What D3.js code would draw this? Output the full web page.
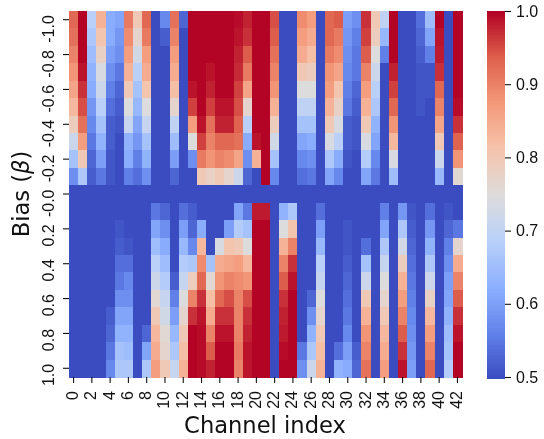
<!DOCTYPE html>
<html>
<head>
<meta charset="utf-8">
<script src="https://cdn.jsdelivr.net/npm/d3@7.9.0/dist/d3.min.js"></script>
<style>
  html, body { margin: 0; padding: 0; background: #fff; }
  svg { display: block; font-family: "DejaVu Sans", sans-serif; filter: blur(.35px); }
  .tick text { fill: #111; }
  .tick line { stroke: #111; stroke-width: 1.1; }
</style>
</head>
<body>
<svg id="chart" width="544" height="439"></svg>
<script>
const biasLabels = ['-1.0','-0.9','-0.8','-0.7','-0.6','-0.5','-0.4','-0.3','-0.2','-0.1','-0.0',
  '0.1','0.2','0.3','0.4','0.5','0.6','0.7','0.8','0.9','1.0'];

// one list per channel, bias -1.0 to -0.1
const negBias = [
  [.93,.92,.90,.88,.86,.83,.79,.72,.66,.58],
  [1,1,1,.99,.97,.95,.92,.87,.80,.67],
  [.69,.67,.65,.63,.62,.59,.57,.55,.53,.52],
  [.84,.81,.78,.74,.72,.69,.66,.63,.60,.55],
  [.62,.62,.60,.58,.56,.54,.52,.52,.51,.51],
  [.61,.59,.58,.55,.53,.52,.51,.50,.50,.50],
  [.91,.89,.87,.84,.80,.75,.71,.63,.62,.56],
  [.80,.77,.73,.69,.66,.64,.61,.59,.56,.54],
  [.93,.91,.87,.85,.81,.75,.71,.66,.63,.58],
  [.5,.5,.5,.5,.5,.5,.5,.5,.5,.5],
  [.57,.52,.5,.5,.5,.5,.5,.5,.5,.5],
  [.92,.90,.87,.85,.82,.77,.70,.65,.60,.53],
  [.53,.5,.5,.5,.5,.5,.5,.5,.5,.5],
  [1,1,1,1,.99,.96,.87,.75,.58,.5],
  [1,1,1,1,1,1,.99,.96,.91,.80],
  [1,1,1,.99,.98,.96,.92,.90,.88,.78],
  [1,1,1,1,1,.99,.98,.93,.90,.80],
  [1,1,1,1,1,.99,.98,.93,.89,.77],
  [.995,.99,.98,.975,.96,.95,.935,.92,.86,.72],
  [.98,.97,.94,.91,.86,.77,.69,.62,.58,.53],
  [1,1,1,1,1,1,1,.99,.84,.5],
  [1,1,1,1,1,1,1,1,1,1],
  [.95,.94,.92,.90,.88,.84,.79,.73,.66,.57],
  [.5,.5,.5,.5,.5,.5,.5,.5,.5,.5],
  [.5,.5,.5,.5,.5,.5,.5,.5,.5,.5],
  [.89,.87,.85,.80,.75,.70,.66,.61,.57,.54],
  [.87,.85,.82,.79,.75,.70,.66,.62,.58,.55],
  [.5,.5,.5,.5,.5,.5,.5,.5,.5,.5],
  [.93,.93,.91,.88,.87,.84,.80,.74,.67,.61],
  [.94,.91,.89,.86,.81,.78,.74,.69,.62,.57],
  [.60,.59,.58,.57,.56,.55,.52,.52,.51,.50],
  [.58,.56,.55,.55,.53,.52,.51,.51,.50,.50],
  [.97,.96,.94,.90,.87,.84,.80,.74,.68,.61],
  [.80,.79,.75,.72,.69,.67,.63,.61,.57,.55],
  [.70,.64,.56,.5,.5,.5,.5,.5,.5,.5],
  [1,1,1,.98,.96,.93,.88,.83,.74,.65],
  [.5,.5,.5,.5,.5,.5,.5,.5,.5,.5],
  [.5,.5,.5,.5,.5,.5,.5,.5,.5,.5],
  [.54,.53,.52,.51,.51,.51,.50,.50,.50,.50],
  [.65,.61,.56,.51,.51,.50,.50,.50,.50,.50],
  [1,.99,.985,.97,.93,.90,.86,.80,.72,.64],
  [.5,.5,.5,.5,.5,.5,.5,.5,.5,.5],
  [1,1,1,1,1,.995,.97,.935,.88,.76]
];

// bias -0.0 is flat at the floor for every channel
const zeroBias = .5;

// one list per channel, bias 0.1 to 1.0
const posBias = [
  [.5,.5,.5,.5,.5,.5,.5,.5,.5,.5],
  [.5,.5,.5,.5,.5,.5,.5,.5,.5,.5],
  [.5,.5,.5,.5,.5,.5,.5,.5,.5,.5],
  [.5,.5,.5,.5,.5,.5,.5,.5,.5,.5],
  [.5,.5,.5,.5,.5,.5,.52,.53,.55,.57],
  [.5,.51,.52,.54,.55,.58,.61,.63,.66,.67],
  [.5,.5,.51,.54,.57,.58,.61,.63,.65,.67],
  [.5,.5,.5,.5,.5,.5,.5,.5,.5,.5],
  [.5,.5,.5,.5,.5,.5,.5,.53,.61,.67],
  [.55,.61,.65,.69,.72,.76,.80,.83,.85,.87],
  [.53,.58,.62,.65,.68,.71,.73,.76,.77,.80],
  [.5,.5,.5,.5,.52,.56,.60,.64,.67,.71],
  [.54,.60,.64,.68,.71,.75,.77,.80,.82,.84],
  [.52,.53,.57,.67,.79,.90,.97,1,1,1],
  [.5,.62,.83,.89,.93,.97,.99,.995,.995,.995],
  [.5,.5,.5,.66,.76,.82,.85,.90,.94,.98],
  [.5,.5,.74,.85,.88,.93,.97,.99,1,1],
  [.5,.60,.81,.86,.90,.95,.97,.99,1,1],
  [.61,.68,.80,.87,.89,.90,.90,.90,.91,.90],
  [.55,.66,.75,.83,.88,.95,.97,.98,.99,.99],
  [.985,1,1,1,1,1,1,1,1,1],
  [.985,1,1,1,1,1,1,1,1,1],
  [.5,.5,.5,.5,.5,.5,.5,.5,.5,.5],
  [.63,.75,.84,.90,.94,.97,.98,.985,.995,1],
  [.67,.81,.90,.97,.99,1,1,1,1,1],
  [.5,.5,.5,.5,.5,.5,.5,.5,.55,.58],
  [.5,.5,.5,.5,.5,.53,.58,.63,.67,.72],
  [.54,.60,.64,.69,.71,.75,.77,.80,.82,.84],
  [.5,.5,.5,.5,.5,.5,.5,.5,.5,.5],
  [.5,.5,.5,.5,.5,.5,.5,.5,.54,.63],
  [.5,.51,.51,.52,.53,.54,.55,.57,.60,.62],
  [.5,.5,.5,.5,.5,.5,.5,.5,.52,.53],
  [.5,.5,.54,.66,.72,.80,.84,.88,.90,.92],
  [.5,.5,.5,.5,.5,.5,.5,.5,.5,.5],
  [.56,.61,.67,.71,.75,.77,.80,.83,.85,.87],
  [.5,.5,.5,.5,.5,.5,.5,.5,.5,.5],
  [.59,.67,.73,.79,.84,.87,.90,.94,.97,.99],
  [.51,.52,.53,.54,.55,.56,.57,.58,.59,.60],
  [.5,.5,.5,.5,.5,.5,.5,.5,.5,.5],
  [.54,.59,.63,.67,.72,.78,.83,.87,.90,.93],
  [.5,.5,.5,.5,.5,.5,.5,.5,.5,.5],
  [.51,.53,.56,.58,.60,.61,.63,.65,.66,.68],
  [.5,.55,.77,.85,.90,.94,.97,.99,1,1]
];

const colorTicks = [.5, .6, .7, .8, .9, 1];
// matplotlib coolwarm sampled at eighths
const coolwarm = ['#3b4cc0','#6282ea','#8db0fe','#b9d0f9','#dddcdc','#f5c4ac','#f49a7b','#de614d','#b40426'];

const plot = { left: 69, right: 462, top: 11, bottom: 377 };
const bar = { left: 487, right: 505 };

const channels = d3.range(negBias.length);

const x = d3.scaleBand().domain(channels).range([plot.left, plot.right]);
const y = d3.scaleBand().domain(biasLabels).range([plot.top, plot.bottom]);
const color = d3.scaleLinear()
  .domain(coolwarm.map((_, i) => .5 + i * .5 / (coolwarm.length - 1)))
  .range(coolwarm)
  .clamp(true);

const cells = channels.flatMap((ch) =>
  biasLabels.map((label, i) => {
    let value = zeroBias;
    if (i < 10) value = negBias[ch][i];
    if (i > 10) value = posBias[ch][i - 11];
    return { ch, label, value };
  })
);

const svg = d3.select('#chart');

svg.append('g')
  .attr('shape-rendering', 'crispEdges')
  .selectAll('rect')
  .data(cells)
  .join('rect')
  .attr('x', (d) => x(d.ch))
  .attr('y', (d) => y(d.label))
  .attr('width', x.bandwidth() + .5)
  .attr('height', y.bandwidth() + .5)
  .attr('fill', (d) => color(d.value));

// x axis
const xAxis = svg.append('g')
  .attr('transform', `translate(0,${plot.bottom})`)
  .call(d3.axisBottom(x).tickValues(channels.filter((d) => d % 2 === 0)).tickSize(6).tickPadding(3));
xAxis.select('.domain').remove();
xAxis.selectAll('text')
  .attr('font-size', 16)
  .attr('transform', 'rotate(-90)')
  .attr('text-anchor', 'end')
  .attr('x', -14)
  .attr('y', 0)
  .attr('dy', '.28em');

// y axis, labels run down from just above their tick
const yAxis = svg.append('g')
  .attr('transform', `translate(${plot.left},0)`)
  .call(d3.axisLeft(y).tickValues(biasLabels.filter((_, i) => i % 2 === 0)).tickSize(6).tickPadding(3));
yAxis.select('.domain').remove();
yAxis.selectAll('text')
  .attr('font-size', 16)
  .attr('transform', 'rotate(-90)')
  .attr('text-anchor', 'end')
  .attr('x', 4.5)
  .attr('y', -15.5)
  .attr('dy', 0);

svg.append('text')
  .attr('x', 265)
  .attr('y', 433)
  .attr('text-anchor', 'middle')
  .attr('font-size', 22.6)
  .attr('fill', '#111')
  .text('Channel index');

const yTitle = svg.append('text')
  .attr('transform', `translate(28.5,${(plot.top + plot.bottom) / 2}) rotate(-90)`)
  .attr('text-anchor', 'middle')
  .attr('font-size', 22.6)
  .attr('fill', '#111');
yTitle.append('tspan').text('Bias (');
yTitle.append('tspan').attr('font-style', 'italic').text('β');
yTitle.append('tspan').text(')');

// colorbar
const barScale = d3.scaleLinear().domain([.5, 1]).range([plot.bottom, plot.top]);
const barSteps = d3.range(0, 256).map((i) => .5 + i * .5 / 255);
const barHeight = (plot.bottom - plot.top) / 255;

svg.append('g')
  .attr('shape-rendering', 'crispEdges')
  .selectAll('rect')
  .data(barSteps)
  .join('rect')
  .attr('x', bar.left)
  .attr('y', (d) => barScale(d))
  .attr('width', bar.right - bar.left)
  .attr('height', barHeight + 1)
  .attr('fill', (d) => color(d));

const barAxis = svg.append('g')
  .attr('transform', `translate(${bar.right},0)`)
  .call(d3.axisRight(barScale).tickValues(colorTicks).tickFormat(d3.format('.1f')).tickSize(6).tickPadding(5));
barAxis.select('.domain').remove();
barAxis.selectAll('text').attr('font-size', 16);
</script>
</body>
</html>
